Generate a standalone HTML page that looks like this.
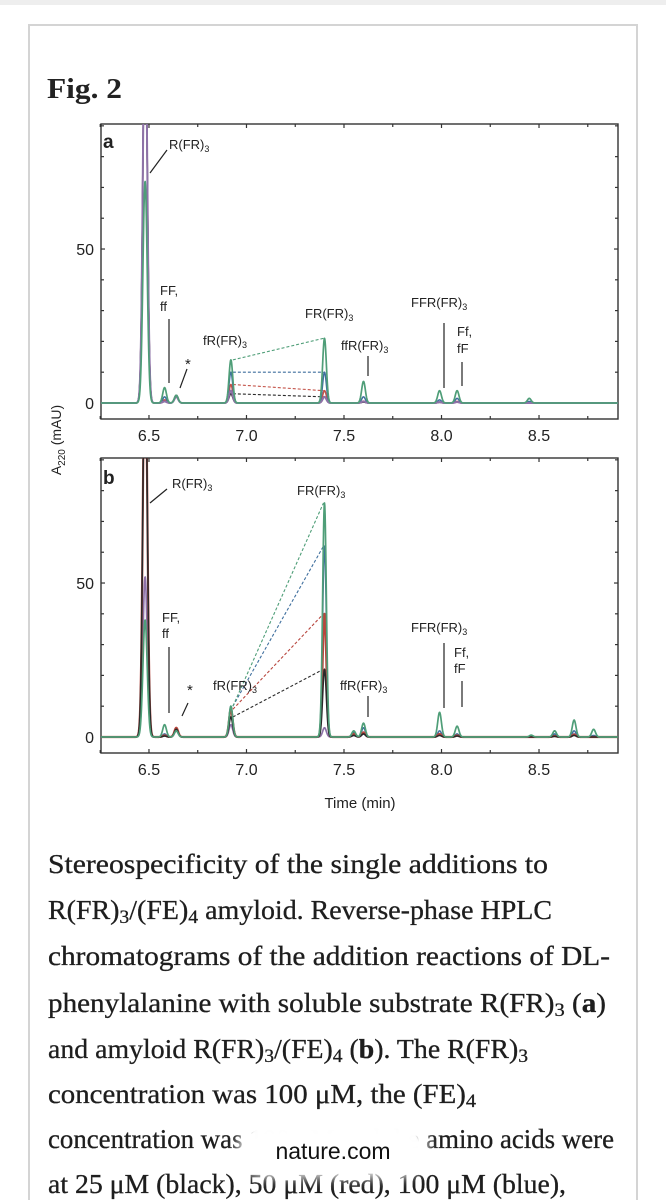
<!DOCTYPE html>
<html><head><meta charset="utf-8">
<style>
html,body{margin:0;padding:0;background:#fff;}
body{width:666px;height:1200px;position:relative;overflow:hidden;}
svg{position:absolute;left:0;top:0;}
</style></head>
<body>
<svg id="fig" width="666" height="1200" viewBox="0 0 666 1200">
  <defs>
    <clipPath id="clipA"><rect x="101" y="124" width="517" height="295"/></clipPath>
    <clipPath id="clipB"><rect x="101" y="458" width="517" height="295"/></clipPath>
    <filter id="blur" x="-30%" y="-60%" width="160%" height="220%"><feGaussianBlur stdDeviation="6"/></filter>
  </defs>
  <rect x="0" y="0" width="666" height="5" fill="#eeeeee"/>
  <rect x="29" y="25" width="608" height="1190" fill="#fff" stroke="#d4d4d4" stroke-width="2"/>
  <text x="47" y="98" font-family="Liberation Serif, serif" font-weight="bold" font-size="29" fill="#222" textLength="75" lengthAdjust="spacingAndGlyphs">Fig. 2</text>

  <g id="panelA"></g>
  <g id="panelB"></g>

  <text transform="translate(61,440) rotate(-90)" text-anchor="middle" font-family="Liberation Sans, sans-serif" font-size="14" fill="#222">A<tspan font-size="10" dy="4">220</tspan><tspan dy="-4"> (mAU)</tspan></text>
  <text x="360" y="808" text-anchor="middle" font-family="Liberation Sans, sans-serif" font-size="15" fill="#222">Time (min)</text>

  <g font-family="Liberation Sans, sans-serif" font-size="13" fill="#222" stroke="none">
    <text x="103" y="148" font-weight="bold" font-size="19">a</text>
    <text x="169" y="149">R(FR)<tspan font-size="9" dy="3">3</tspan></text>
    <line x1="150" y1="173" x2="167" y2="150" stroke="#222" stroke-width="1.2"/>
    <text x="160" y="295">FF,</text>
    <text x="160" y="311">ff</text>
    <line x1="169" y1="319" x2="169" y2="383" stroke="#222" stroke-width="1.2"/>
    <text x="185" y="369" font-size="15">*</text>
    <line x1="180" y1="388" x2="187" y2="369" stroke="#222" stroke-width="1.2"/>
    <text x="203" y="345">fR(FR)<tspan font-size="9" dy="3">3</tspan></text>
    <text x="305" y="318">FR(FR)<tspan font-size="9" dy="3">3</tspan></text>
    <text x="341" y="350">ffR(FR)<tspan font-size="9" dy="3">3</tspan></text>
    <line x1="368" y1="356" x2="368" y2="376" stroke="#222" stroke-width="1.2"/>
    <text x="411" y="307">FFR(FR)<tspan font-size="9" dy="3">3</tspan></text>
    <line x1="444" y1="323" x2="444" y2="388" stroke="#222" stroke-width="1.2"/>
    <text x="457" y="336">Ff,</text>
    <text x="457" y="353">fF</text>
    <line x1="462" y1="362" x2="462" y2="386" stroke="#222" stroke-width="1.2"/>
  </g>
  <g font-family="Liberation Sans, sans-serif" font-size="13" fill="#222">
    <text x="103" y="484" font-weight="bold" font-size="19">b</text>
    <text x="172" y="488">R(FR)<tspan font-size="9" dy="3">3</tspan></text>
    <line x1="150" y1="503" x2="167" y2="489" stroke="#222" stroke-width="1.2"/>
    <text x="297" y="495">FR(FR)<tspan font-size="9" dy="3">3</tspan></text>
    <text x="162" y="622">FF,</text>
    <text x="162" y="638">ff</text>
    <line x1="169" y1="647" x2="169" y2="713" stroke="#222" stroke-width="1.2"/>
    <text x="187" y="695" font-size="15">*</text>
    <line x1="182" y1="716" x2="188" y2="703" stroke="#222" stroke-width="1.2"/>
    <text x="213" y="690">fR(FR)<tspan font-size="9" dy="3">3</tspan></text>
    <text x="340" y="690">ffR(FR)<tspan font-size="9" dy="3">3</tspan></text>
    <line x1="368" y1="696" x2="368" y2="717" stroke="#222" stroke-width="1.2"/>
    <text x="411" y="632">FFR(FR)<tspan font-size="9" dy="3">3</tspan></text>
    <line x1="444" y1="643" x2="444" y2="708" stroke="#222" stroke-width="1.2"/>
    <text x="454" y="657">Ff,</text>
    <text x="454" y="673">fF</text>
    <line x1="462" y1="681" x2="462" y2="707" stroke="#222" stroke-width="1.2"/>
  </g>

  <g font-family="Liberation Serif, serif" font-size="27" fill="#1e1e1e" stroke="#1e1e1e" stroke-width="0.3">
    <text x="48" y="873" textLength="500" lengthAdjust="spacingAndGlyphs">Stereospecificity of the single additions to</text>
    <text x="48" y="919" textLength="504" lengthAdjust="spacingAndGlyphs">R(FR)<tspan font-size="19" dy="4">3</tspan><tspan dy="-4">/(FE)</tspan><tspan font-size="19" dy="4">4</tspan><tspan dy="-4"> amyloid. Reverse-phase HPLC</tspan></text>
    <text x="48" y="965" textLength="562" lengthAdjust="spacingAndGlyphs">chromatograms of the addition reactions of DL-</text>
    <text x="48" y="1012" textLength="558" lengthAdjust="spacingAndGlyphs">phenylalanine with soluble substrate R(FR)<tspan font-size="19" dy="4">3</tspan><tspan dy="-4"> (</tspan><tspan font-weight="bold">a</tspan><tspan>)</tspan></text>
    <text x="48" y="1058" textLength="480" lengthAdjust="spacingAndGlyphs">and amyloid R(FR)<tspan font-size="19" dy="4">3</tspan><tspan dy="-4">/(FE)</tspan><tspan font-size="19" dy="4">4</tspan><tspan dy="-4"> (</tspan><tspan font-weight="bold">b</tspan><tspan>). The R(FR)</tspan><tspan font-size="19" dy="4">3</tspan></text>
    <text x="48" y="1103" textLength="428" lengthAdjust="spacingAndGlyphs">concentration was 100 μM, the (FE)<tspan font-size="19" dy="4">4</tspan></text>
    <text x="48" y="1148" textLength="566" lengthAdjust="spacingAndGlyphs">concentration was 100 μM and the amino acids were</text>
    <text x="48" y="1193" textLength="518" lengthAdjust="spacingAndGlyphs">at 25 μM (black), 50 μM (red), 100 μM (blue),</text>
  </g>

  <g>
    <rect x="238" y="1120" width="190" height="58" rx="29" fill="#fff" filter="url(#blur)" opacity="0.97"/>
    <rect x="246" y="1126" width="174" height="46" rx="23" fill="#fff" opacity="0.9"/>
    <text x="333" y="1159" text-anchor="middle" font-family="Liberation Sans, sans-serif" font-size="23" fill="#111">nature.com</text>
  </g>
</svg>
<script>
// ---- data ----
const xTickLabels = ["6.5","7.0","7.5","8.0","8.5"];
const xTickValues = [6.5,7.0,7.5,8.0,8.5];
const yTickLabels = ["0","50"];
const yTickValues = [0,50];

const peakTimesA = [6.48,6.58,6.64,6.92,7.40,7.60,7.99,8.08,8.45];
const greenA  = [72,5,2.5,14,21,7,4,4,1.5];
const blueA   = [130,2,2.5,10,10,2,1,1.5,0.5];
const redA    = [130,1,2.5,6,4,0.6,0.3,0.5,0];
const blackA  = [130,0.5,2.5,3,2,0.3,0.2,0.3,0];
const purpleA = [130,0.5,2,4,2,0.5,0.3,0.3,0];

const peakTimesB = [6.48,6.58,6.64,6.92,7.40,7.55,7.60,7.99,8.08,8.46,8.58,8.68,8.78];
const greenB  = [38,4,2,10,76,2,4.5,8,3.5,0.6,2,5.5,2.5];
const blueB   = [130,1,2.5,10,62,1.5,3,2,1,0.3,1,2,0.5];
const redB    = [130,0.5,3,9,40,1,1.5,1,0.5,0,0.3,0.8,0];
const blackB  = [130,0.3,2.5,6.5,22,0.5,1,0.5,0.3,0,0.2,0.5,0];
const purpleB = [52,0.5,2,4,3,0.5,1,1,0.5,0,0.5,1,0];

// ---- layout ----
const NS = "http://www.w3.org/2000/svg";
const X0 = 101, X1 = 618, TMIN = 6.254, TMAX = 8.905;
const VMIN = -5.2, VMAX = 90.6;
function xScale(t){ return X0 + (t - TMIN) / (TMAX - TMIN) * (X1 - X0); }
function makeY(top, bottom){ return v => bottom - (v - VMIN) / (VMAX - VMIN) * (bottom - top); }

function mk(tag, attrs, parent){
  const e = document.createElementNS(NS, tag);
  for (const k in attrs) e.setAttribute(k, attrs[k]);
  parent.appendChild(e); return e;
}

function signal(t, times, heights){
  let s = 0;
  for (let i = 0; i < times.length; i++){
    const sg = i === 0 ? 0.011 : 0.0095;
    const d = (t - times[i]) / sg;
    s += heights[i] * Math.exp(-0.5 * d * d);
  }
  return s;
}

function drawPanel(g, top, bottom, clipId, times, series, fRIdx, FRIdx){
  const y = makeY(top, bottom);
  mk('rect', {x:X0, y:top, width:X1-X0, height:bottom-top, fill:'none', stroke:'#333', 'stroke-width':1.4}, g);
  for (let t = 6.25; t <= 8.9; t += 0.25){
    const px = xScale(t);
    const major = xTickValues.some(v => Math.abs(v - t) < 1e-6);
    const L = major ? 4 : 3;
    const tb = mk('line', {x1:px, y1:bottom, x2:px, y2:bottom-L, stroke:'#333', 'stroke-width':1.2}, g);
    
    
    mk('line', {x1:px, y1:top, x2:px, y2:top+L, stroke:'#333', 'stroke-width':1.2}, g);
  }
  xTickValues.forEach((v, i) => {
    const tx = mk('text', {x:xScale(v), y:bottom+22, 'text-anchor':'middle', 'font-family':'Liberation Sans, sans-serif', 'font-size':16, fill:'#222'}, g);
    tx.textContent = xTickLabels[i];
    
    
  });
  for (let v = 0; v <= 90; v += 10){
    const py = y(v);
    const L = (v % 50 === 0) ? 4 : 3;
    const tl = mk('line', {x1:X0, y1:py, x2:X0+L, y2:py, stroke:'#333', 'stroke-width':1.2}, g);
    
    
    mk('line', {x1:X1, y1:py, x2:X1-L, y2:py, stroke:'#333', 'stroke-width':1.2}, g);
  }
  yTickValues.forEach((v, i) => {
    const tx = mk('text', {x:X0-7, y:y(v)+6, 'text-anchor':'end', 'font-family':'Liberation Sans, sans-serif', 'font-size':16, fill:'#222'}, g);
    tx.textContent = yTickLabels[i];
    
    
  });
  const cg = mk('g', {'clip-path':'url(#' + clipId + ')'}, g);
  series.forEach(s => {
    if (!s.dash) return;
    const ln = mk('line', {x1:xScale(times[fRIdx])+2, y1:y(s.h[fRIdx]), x2:xScale(times[FRIdx])-1, y2:y(s.h[FRIdx]), stroke:s.color, 'stroke-width':1.1, 'stroke-dasharray':'3,2'}, cg);
    
    
  });
  series.forEach(s => {
    let d = '';
    for (let t = TMIN; t <= TMAX; t += 0.0015){
      d += (d ? 'L' : 'M') + xScale(t).toFixed(2) + ' ' + y(signal(t, times, s.h)).toFixed(2);
    }
    const p = mk('path', {d:d, fill:'none', stroke:s.color, 'stroke-width':s.w, 'stroke-linejoin':'round'}, cg);
    
    
  });
}

drawPanel(document.getElementById('panelA'), 124, 419, 'clipA', peakTimesA, [
  {name:'red-a', h:redA, color:'#c4544a', w:1.6, dash:true},
  {name:'black-a', h:blackA, color:'#2a2a2a', w:1.6, dash:true},
  {name:'blue-a', h:blueA, color:'#3f6f9e', w:1.5, dash:true},
  {name:'purple-a', h:purpleA, color:'#8e72a8', w:2, dash:false},
  {name:'green-a', h:greenA, color:'#4f9e78', w:1.7, dash:true}
], 3, 4);

drawPanel(document.getElementById('panelB'), 458, 753, 'clipB', peakTimesB, [
  {name:'purple-b', h:purpleB, color:'#8e72a8', w:1.7, dash:false},
  {name:'blue-b', h:blueB, color:'#3f6f9e', w:1.5, dash:true},
  {name:'red-b', h:redB, color:'#b8463e', w:2.2, dash:true},
  {name:'black-b', h:blackB, color:'#2a2a2a', w:1.6, dash:true},
  {name:'green-b', h:greenB, color:'#4f9e78', w:1.7, dash:true}
], 3, 4);
</script>
</body></html>
